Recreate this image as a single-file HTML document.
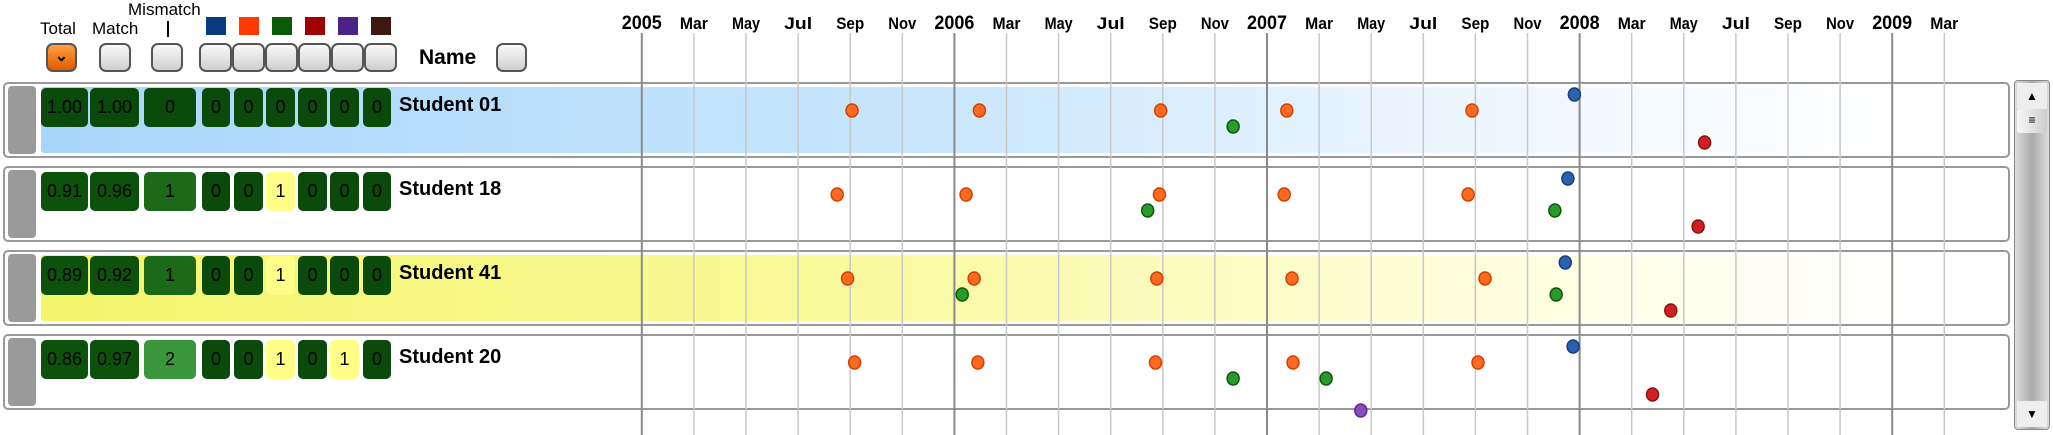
<!DOCTYPE html>
<html><head><meta charset="utf-8"><style>
body{margin:0;width:2053px;height:435px;overflow:hidden;background:#fff;font-family:"Liberation Sans",sans-serif;position:relative}
.abs{position:absolute}
.lbl{position:absolute;font-size:17px;color:#000;white-space:nowrap}
.btn{position:absolute;top:43px;height:29px;border:2px solid #555;border-radius:7px;background:linear-gradient(#fafafa,#cfcfcf);box-sizing:border-box}
.sq{position:absolute;top:17px;width:20px;height:18px}
.row{position:absolute;left:3px;width:2007px;height:76px;border:2px solid #999;border-radius:5px;box-sizing:border-box}
.band{position:absolute;left:36px;right:3px;top:3px;bottom:3px;border-radius:3px}
.handle{position:absolute;left:3px;top:2px;width:28px;height:68px;background:#9a9a9a;border-radius:4px}
.cell{position:absolute;top:4px;height:39px;border-radius:5px;color:#000;font-size:18px;text-align:center;line-height:39px}
.name{position:absolute;left:394px;top:10px;font-size:20px;font-weight:bold;color:#000}
</style></head><body>
<div class="lbl" style="left:40px;top:19px">Total</div>
<div class="lbl" style="left:92px;top:19px">Match</div>
<div class="lbl" style="left:128px;top:0px">Mismatch</div>
<div class="abs" style="left:167px;top:21px;width:2px;height:16px;background:#000"></div>
<div class="sq" style="left:206px;background:#0a3a80"></div>
<div class="sq" style="left:239px;background:#ff3a00"></div>
<div class="sq" style="left:272px;background:#0a5a0a"></div>
<div class="sq" style="left:305px;background:#a00000"></div>
<div class="sq" style="left:338px;background:#4a2288"></div>
<div class="sq" style="left:371px;background:#401812"></div>
<div class="btn" style="left:46px;width:31px;background:linear-gradient(#ffa040,#e05a00);text-align:center;font-size:16px;line-height:24px;font-weight:bold">⌄</div>
<div class="btn" style="left:99px;width:32px"></div>
<div class="btn" style="left:151px;width:32px"></div>
<div class="btn" style="left:199px;width:33px"></div>
<div class="btn" style="left:232px;width:33px"></div>
<div class="btn" style="left:265px;width:33px"></div>
<div class="btn" style="left:298px;width:33px"></div>
<div class="btn" style="left:331px;width:33px"></div>
<div class="btn" style="left:364px;width:33px"></div>
<div class="lbl" style="left:419px;top:46px;font-size:21px;font-weight:bold">Name</div>
<div class="btn" style="left:496px;width:31px"></div>
<div id="rows"></div>
<svg id="tl" class="abs" style="left:0;top:0;pointer-events:none" width="2053" height="435"></svg>
<div class="abs" style="left:2014px;top:80px;width:36px;height:350px;border:1px solid #888;border-radius:4px;background:linear-gradient(90deg,#ddd,#aaa,#ddd);box-sizing:border-box">
<div class="abs" style="left:2px;top:2px;width:30px;height:26px;background:#eee;text-align:center;font-size:12px;line-height:26px">▲</div>
<div class="abs" style="left:2px;top:28px;width:30px;height:24px;background:linear-gradient(90deg,#f8f8f8,#ccc);border-radius:3px;text-align:center;font-size:12px;line-height:22px">≡</div>
<div class="abs" style="left:2px;bottom:2px;width:30px;height:26px;background:#eee;text-align:center;font-size:12px;line-height:26px">▼</div>
</div>
<script>
const students=["Student 01","Student 18","Student 41","Student 20"];
const totals=["1.00","0.91","0.89","0.86"];
const matches=["1.00","0.96","0.92","0.97"];
const mismatches=[0,1,1,2];
const colorCounts=[[0,0,0,0,0,0],[0,0,1,0,0,0],[0,0,1,0,0,0],[0,0,1,0,1,0]];
// event times in months since Jan 2005, per series (0 blue,1 orange,2 green,3 red,4 purple)
const blueEvents=[[35.8],[35.55],[35.45],[35.75]];
const orangeEvents=[[8.07,12.96,19.92,24.76,31.87],[7.5,12.45,19.87,24.66,31.72],[7.9,12.76,19.77,24.96,32.37],[8.17,12.9,19.72,25.0,32.1]];
const greenEvents=[[22.7],[19.42,35.05],[12.3,35.1],[22.7,26.27]];
const redEvents=[[40.8],[40.55],[39.5],[38.8]];
const purpleEvents=[[],[],[],[27.6]];
const monthNames=["Jan","Feb","Mar","Apr","May","Jun","Jul","Aug","Sep","Oct","Nov","Dec"];
const startYear=2005, endMonth=50;
const X=m=>641.8+m*26.05;
const rowTop=i=>82+i*84;
const levelY=k=>12.5+k*16;
const series=[blueEvents,orangeEvents,greenEvents,redEvents,purpleEvents];
const fills=["#2a62b0","#ff6a20","#2a9a2a","#d02020","#8a4ac0"];
const strokes=["#1a3a80","#d04000","#0a5a0a","#901010","#5a2a90"];
const bands=["linear-gradient(90deg,#a8d6fb 0%,#c8e6fd 45%,#eaf5fe 70%,#fff 95%)","none","linear-gradient(90deg,#f4f56a 0%,#f8f99a 40%,#fdfdd6 70%,#fff 95%)","none"];
const cellX=[[41,47],[90,49],[144,52],[202,28],[234,29],[266,29],[298,29],[330,29],[363,28]];
const rowsEl=document.getElementById('rows');
students.forEach((s,i)=>{
  const r=document.createElement('div');r.className='row';r.style.top=rowTop(i)+'px';
  
  
  const b=document.createElement('div');b.className='band';b.style.background=bands[i];
  
  
  r.appendChild(b);
  const h=document.createElement('div');h.className='handle';
  
  
  r.appendChild(h);
  const vals=[totals[i],matches[i],mismatches[i],...colorCounts[i]];
  vals.forEach((v,j)=>{
    const c=document.createElement('div');c.className='cell';
    let bg='#0a4a0a';
    if(j==2&&v==1)bg='#1a6a1a'; if(j==2&&v==2)bg='#3a963a';
    if(j<2&&i>0)bg='#0c520c';
    if(j>2&&v>0)bg='#ffff88';
    c.style.background=bg;c.style.left=(cellX[j][0]-5)+'px';c.style.width=cellX[j][1]+'px';
    c.textContent=v;
    
    
    r.appendChild(c);
  });
  const n=document.createElement('div');n.className='name';n.textContent=s;
  
  
  r.appendChild(n);
  rowsEl.appendChild(r);
});
const svg=document.getElementById('tl');const NS='http://www.w3.org/2000/svg';
for(let m=0;m<=endMonth;m+=2){
  const yr=m%12==0;
  const l=document.createElementNS(NS,'line');
  l.setAttribute('x1',X(m));l.setAttribute('x2',X(m));l.setAttribute('y1',33);l.setAttribute('y2',435);
  l.setAttribute('stroke',yr?'#8a8a8a':'#c8c8c8');l.setAttribute('stroke-width',yr?2:1.5);
  
  
  svg.appendChild(l);
  const t=document.createElementNS(NS,'text');
  t.setAttribute('x',X(m));t.setAttribute('y',29);t.setAttribute('text-anchor','middle');
  t.setAttribute('font-family','Liberation Sans Narrow, Liberation Sans, sans-serif');
  t.setAttribute('font-weight','bold');t.setAttribute('font-size',yr?19:17);
  t.setAttribute('textLength',yr?40:28);t.setAttribute('lengthAdjust','spacingAndGlyphs');
  t.textContent=yr?String(startYear+m/12):monthNames[m%12];
  
  
  svg.appendChild(t);
}
series.forEach((ser,k)=>{
  ser.forEach((evs,i)=>{
    evs.forEach(v=>{
      const c=document.createElementNS(NS,'ellipse');
      c.setAttribute('cx',X(v));c.setAttribute('cy',rowTop(i)+levelY(k));
      c.setAttribute('rx',6);c.setAttribute('ry',6.5);
      c.setAttribute('fill',fills[k]);c.setAttribute('stroke',strokes[k]);c.setAttribute('stroke-width',1.5);
      
      
      svg.appendChild(c);
    });
  });
});
</script>
</body></html>
